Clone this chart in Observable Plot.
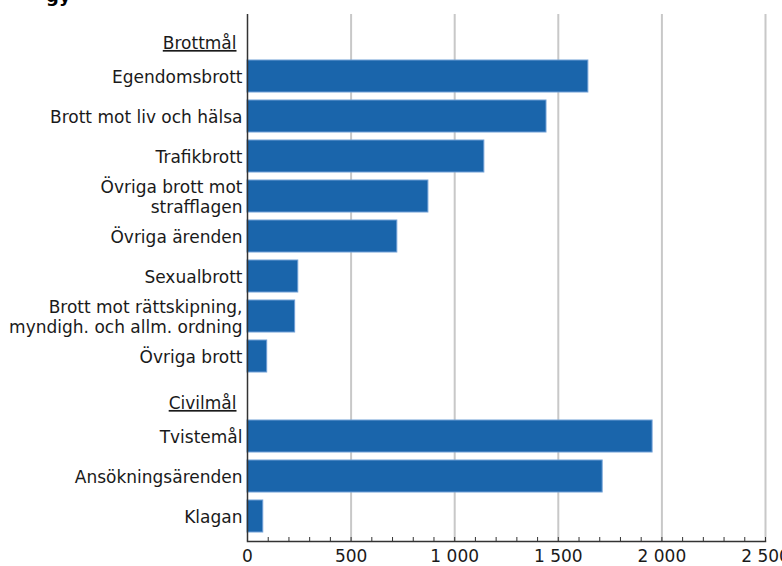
<!DOCTYPE html>
<html><head><meta charset="utf-8">
<script src="https://cdn.jsdelivr.net/npm/d3@7"></script>
<script src="https://cdn.jsdelivr.net/npm/@observablehq/plot@0.6"></script>
<style>
body{margin:0;background:#fff;overflow:hidden;}
#wrap{position:relative;width:782px;height:566px;overflow:hidden;}
#wrap svg{position:absolute;left:0;top:0;}
#title{position:absolute;left:46px;top:-13px;font:bold 18px "DejaVu Sans";line-height:18px;color:#000;white-space:nowrap;z-index:2;}
</style></head><body><div id="wrap"><div id="title">gy</div></div>
<script>
const categories = ["Brottmål","Egendomsbrott","Brott mot liv och hälsa","Trafikbrott","Övriga brott mot\nstrafflagen","Övriga ärenden","Sexualbrott","Brott mot rättskipning,\nmyndigh. och allm. ordning","Övriga brott","Civilmål","Tvistemål","Ansökningsärenden","Klagan"];
const values = [null,1645,1443,1143,873,723,245,230,95,null,1955,1714,76];
const headers = ["Brottmål","Civilmål"];
const xTicks = [0,500,1000,1500,2000,2500];
const minorTicks = d3.range(0,2501,100);

const fmt = d3.formatLocale({decimal:",", thousands:" ", grouping:[3], currency:["","kr"]}).format(",");
const rows = categories.map((c,i)=>({category:c, value:values[i], header: headers.includes(c)}));

const plot = Plot.plot({
  width:782, height:566, marginLeft:247, marginRight:17, marginTop:14, marginBottom:25,
  style:{fontFamily:"DejaVu Sans", fontSize:"17px", color:"#1a1a1a", background:"#fff", overflow:"visible"},
  x:{domain:[0,2500], ticks:xTicks, tickFormat: fmt, label:null},
  y:{domain:categories, paddingInner:0.2, paddingOuter:0.1, insetBottom:3, label:null, axis:null},
  marks:[
    Plot.gridX(xTicks.filter(d=>d>0), {stroke:"#c8c8c8", strokeOpacity:1, strokeWidth:2}),
    Plot.barX(rows.filter(d=>d.value!=null), {x:"value", y:"category", fill:"#1a65ab", stroke:"#6f9fd6", strokeWidth:1}),
    Plot.ruleX(minorTicks, {x:d=>d, insetTop:523, stroke:"#333"}),
    Plot.ruleX([0], {stroke:"#333", strokeWidth:1.5}),
    Plot.frame({anchor:"bottom", stroke:"#333", strokeWidth:1.5}),
    Plot.axisX({ticks:xTicks, tickFormat:fmt, tickSize:0, tickPadding:8, fontSize:17}),
    Plot.text(rows.filter(d=>!d.header), {y:"category", text:"category", frameAnchor:"left", textAnchor:"end", dx:-5, lineHeight:1.2, fontSize:17}),
    Plot.text(rows.filter(d=>d.header), {y:"category", text:"category", frameAnchor:"left", textAnchor:"end", dx:-11, dy:7, fontSize:17})
  ]
});
plot.querySelectorAll("text").forEach(t => {
  if (headers.includes(t.textContent)) t.style.textDecoration = "underline";
});
document.getElementById("wrap").prepend(plot);
</script>
</body></html>
